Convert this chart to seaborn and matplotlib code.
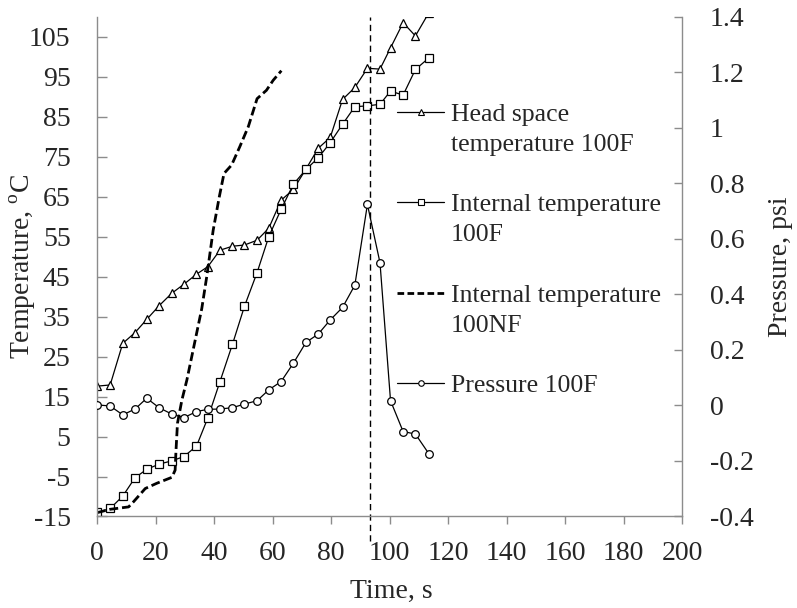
import matplotlib
matplotlib.use("Agg")
import matplotlib.pyplot as plt
from matplotlib.lines import Line2D
import seaborn as sns

# values: time (s), temperature (C), pressure (psi)
time_f = [0, 4.5, 8.8, 13.0, 17.0, 21.2, 25.5, 29.7, 34.0, 37.9, 42.0, 46.3, 50.4, 54.7,
          58.7, 62.9, 67.1, 71.4, 75.6, 79.7, 83.9, 88.1, 92.4, 96.7, 100.3, 104.6, 108.8, 113.4]
head_space_100f = [17.6, 17.9, 28.3, 31.0, 34.3, 37.7, 40.8, 43.1, 45.6, 47.5, 51.6, 52.6, 52.9, 54.1,
                   57.1, 64.1, 66.8, 71.9, 77.1, 79.8, 89.3, 92.3, 97.1, 96.9, 102.2, 108.5, 105.2, 111.0]
internal_100f = [-14.0, -13.0, -9.9, -5.3, -3.2, -1.9, -1.1, 0.0, 2.6, 9.7, 18.7, 28.1, 37.6, 46.0,
                 55.0, 61.8, 68.1, 71.8, 74.7, 78.5, 83.1, 87.5, 87.7, 88.1, 91.4, 90.4, 96.8, 99.7]
pressure_100f = [0.002, -0.002, -0.034, -0.013, 0.026, -0.008, -0.031, -0.044, -0.022, -0.014, -0.013, -0.008, 0.005, 0.017,
                 0.056, 0.086, 0.152, 0.227, 0.257, 0.308, 0.353, 0.433, 0.724, 0.514, 0.017, -0.094, -0.103, -0.174]

time_nf = [0, 4.5, 10.8, 12.5, 16.5, 20.4, 25.6, 26.7, 27.0, 27.5, 29.0, 30.7, 35.8, 37.5,
           39.7, 41.8, 43.4, 46.0, 48.8, 51.7, 54.7, 57.9, 60.2, 63.0]
internal_100nf = [-14.05, -13.2, -12.6, -11.3, -8.0, -6.7, -5.2, -3.4, 1.6, 8.3, 14.1, 19.1, 37.0, 45.0,
                  56.6, 65.0, 70.8, 72.9, 77.5, 82.5, 89.5, 91.6, 94.1, 96.5]

peak_time = 93.3

x_ticks = list(range(0, 201, 20))
temp_ticks = list(range(-15, 106, 10))
pres_ticks = [-0.4, -0.2, 0, 0.2, 0.4, 0.6, 0.8, 1, 1.2, 1.4]

legend_labels = ["Head space", "temperature 100F", "",
                 "Internal temperature", "100F", "",
                 "Internal temperature", "100NF", "",
                 "Pressure 100F"]

sns.set_style("white")
plt.rcParams["font.family"] = ["Liberation Serif", "DejaVu Serif"]
plt.rcParams["mathtext.fontset"] = "custom"
plt.rcParams["mathtext.rm"] = "Liberation Serif"
plt.rcParams["axes.unicode_minus"] = False

grey = "#8c8c8c"

fig = plt.figure(figsize=(7.97, 6.08), dpi=100)
ax = fig.add_axes([0.1217, 0.1505, 0.7344, 0.822])
ax2 = ax.twinx()

mk = dict(color="black", linewidth=0.9, markersize=5.5, markerfacecolor="white",
          markeredgecolor="black", markeredgewidth=0.9, errorbar=None)

sns.lineplot(x=time_f, y=head_space_100f, ax=ax, marker="^", **mk)
sns.lineplot(x=time_f, y=internal_100f, ax=ax, marker="s", **mk)
sns.lineplot(x=time_nf, y=internal_100nf, ax=ax, color="black", linewidth=2.0,
             linestyle="--", errorbar=None)
ax.lines[-1].set_dashes([3.2, 1.4])
ax.axvline(peak_time, ymin=-0.05, ymax=1, color="black", linewidth=1,
           linestyle=(0, (4.5, 3)), clip_on=False)

sns.lineplot(x=time_f, y=pressure_100f, ax=ax2, marker="o", **mk)

ax.set_xlim(0, 200)
ax.set_ylim(-15, 110)
ax2.set_ylim(-0.4, 1.4)
ax.set_xticks(x_ticks)
ax.set_yticks(temp_ticks)
ax2.set_yticks(pres_ticks)
ax2.set_yticklabels([f"{v:g}" for v in pres_ticks])

for sp in ["top", "right"]:
    ax.spines[sp].set_visible(False)
for sp in ["top", "left", "bottom"]:
    ax2.spines[sp].set_visible(False)
for sp in [ax.spines["left"], ax.spines["bottom"], ax2.spines["right"]]:
    sp.set_color(grey)
    sp.set_linewidth(1)

ax.tick_params(axis="y", direction="in", length=7, width=1, color=grey,
               pad=19, labelsize=20, left=True)
ax.tick_params(axis="x", direction="out", length=6, width=1, color=grey,
               pad=12, labelsize=20, bottom=True)
ax2.tick_params(axis="y", direction="in", length=6, width=1, color=grey,
                pad=20, labelsize=20, right=True)

ax.set_xlabel("Time, s", fontsize=20)
ax.set_ylabel("Temperature, $^{\\rm o}$C", fontsize=20)
ax2.set_ylabel("Pressure, psi", fontsize=20)
ax.xaxis.set_label_coords(0.502, -0.125)
ax.yaxis.set_label_coords(-0.10, 0.5)
ax2.yaxis.set_label_coords(1.146, 0.5)

blank = Line2D([], [], linestyle="none")
leg_mk = dict(color="black", linewidth=0.9, markersize=4, markerfacecolor="white",
              markeredgecolor="black", markeredgewidth=0.8)
handles = [Line2D([], [], marker="^", **leg_mk), blank, blank,
           Line2D([], [], marker="s", **leg_mk), blank, blank,
           Line2D([], [], color="black", linewidth=2.0, dashes=[2.4, 1.2]), blank, blank,
           Line2D([], [], marker="o", **leg_mk)]
ax2.legend(handles, legend_labels, loc="upper left", bbox_to_anchor=(0.5126, 0.828),
           frameon=False, fontsize=18.5, handlelength=1.83, handletextpad=0.27,
           labelspacing=0.28, borderpad=0, borderaxespad=0)

fig.savefig("out.png", dpi=100)
